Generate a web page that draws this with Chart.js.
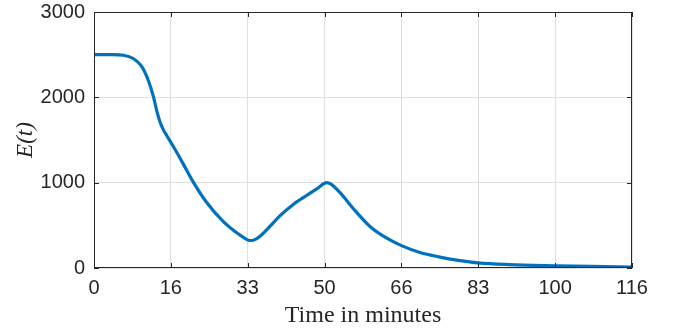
<!DOCTYPE html>
<html>
<head>
<meta charset="utf-8">
<script src="https://cdn.jsdelivr.net/npm/chart.js@4.4.1/dist/chart.umd.min.js"></script>
<style>
  html, body { margin: 0; padding: 0; background: #ffffff; }
  #wrap { width: 673px; height: 331px; }
</style>
</head>
<body>
<div id="wrap"><canvas id="chart-energy" width="673" height="331"></canvas></div>
<script>
// Time (minutes) and E(t)
const timeMinutes = [0, 4, 6.4, 8.5, 10.3, 11.8, 12.9, 13.6, 14.3, 15.0, 15.8, 16.8, 17.9, 19.7, 21.5, 24.4, 28, 30.5, 32.4, 33.5, 34.3, 35.2, 36.5, 38.2, 40.3, 43.2, 46.1, 48.3, 50.5, 51.3, 53.4, 56.2, 59.9, 63.5, 66.8, 70.7, 75, 79, 83.3, 90, 100, 108, 116.67];
const energyValues = [2500, 2500, 2493, 2455, 2365, 2195, 2005, 1845, 1715, 1625, 1550, 1460, 1360, 1185, 1010, 770, 545, 430, 360, 325, 322, 340, 395, 490, 610, 745, 850, 928, 1000, 985, 880, 698, 484, 349, 259, 181, 128, 90, 60, 40, 26, 18, 12];

// x ticks sit every 1000 s, labelled with whole minutes
const xTickValues = [0, 1000 / 60, 2000 / 60, 3000 / 60, 4000 / 60, 5000 / 60, 6000 / 60, 7000 / 60];
const xTickLabels = ['0', '16', '33', '50', '66', '83', '100', '116'];
const yTickValues = [0, 1000, 2000, 3000];

const axisColor = '#262626';
const tickFont = { family: '"Liberation Sans", Arial, sans-serif', size: 20 };

// MATLAB style box with inward ticks on all four sides
const boxPlugin = {
  id: 'boxTicks',
  afterDraw(chart) {
    const { ctx, chartArea: a, scales } = chart;
    const len = 5;
    ctx.save();
    ctx.strokeStyle = axisColor;
    ctx.lineWidth = 1;
    ctx.beginPath();
    ctx.rect(a.left + 0.5, a.top + 0.5, a.right - a.left - 1, a.bottom - a.top - 1);
    xTickValues.forEach(v => {
      const x = Math.round(scales.x.getPixelForValue(v)) + 0.5;
      ctx.moveTo(x, a.bottom);
      ctx.lineTo(x, a.bottom - len);
      ctx.moveTo(x, a.top);
      ctx.lineTo(x, a.top + len);
    });
    yTickValues.forEach(v => {
      const y = Math.round(scales.y.getPixelForValue(v)) + 0.5;
      ctx.moveTo(a.left, y);
      ctx.lineTo(a.left + len, y);
      ctx.moveTo(a.right, y);
      ctx.lineTo(a.right - len, y);
    });
    ctx.stroke();
    ctx.restore();
  }
};

const points = timeMinutes.map((t, i) => ({ x: t, y: energyValues[i] }));

new Chart(document.getElementById('chart-energy').getContext('2d'), {
  type: 'line',
  data: {
    datasets: [{
      data: points,
      borderColor: '#0072BD',
      borderWidth: 3.2,
      pointRadius: 0,
      fill: false,
      cubicInterpolationMode: 'monotone'
    }]
  },
  options: {
    responsive: false,
    animation: false,
    layout: { padding: { top: 12, right: 41, left: 0, bottom: 0 } },
    plugins: { legend: { display: false }, tooltip: { enabled: false } },
    scales: {
      x: {
        type: 'linear',
        min: 0,
        max: 7000 / 60,
        afterBuildTicks: scale => { scale.ticks = xTickValues.map(v => ({ value: v })); },
        afterFit: scale => {
          scale.height = 63;
          scale.paddingLeft = 0;
          scale.paddingRight = 0;
        },
        ticks: {
          color: axisColor,
          font: tickFont,
          padding: 8,
          maxRotation: 0,
          autoSkip: false,
          callback: (value, index) => xTickLabels[index]
        },
        grid: { color: '#dfdfdf', drawTicks: false },
        border: { display: false },
        title: {
          display: true,
          text: 'Time in minutes',
          color: axisColor,
          font: { family: '"Liberation Serif", "Times New Roman", serif', size: 24 },
          padding: { top: 0, bottom: 1 }
        }
      },
      y: {
        min: 0,
        max: 3000,
        afterBuildTicks: scale => { scale.ticks = yTickValues.map(v => ({ value: v })); },
        afterFit: scale => {
          scale.width = 94;
          scale.paddingTop = 0;
          scale.paddingBottom = 0;
        },
        ticks: {
          color: axisColor,
          font: tickFont,
          padding: 9,
          callback: value => String(value)
        },
        grid: { color: '#dfdfdf', drawTicks: false },
        border: { display: false },
        title: {
          display: true,
          text: 'E(t)',
          color: axisColor,
          font: { family: '"Liberation Serif", "Times New Roman", serif', size: 23, style: 'italic' },
          padding: { top: 12, bottom: 0 }
        }
      }
    }
  },
  plugins: [boxPlugin]
});
</script>
</body>
</html>
